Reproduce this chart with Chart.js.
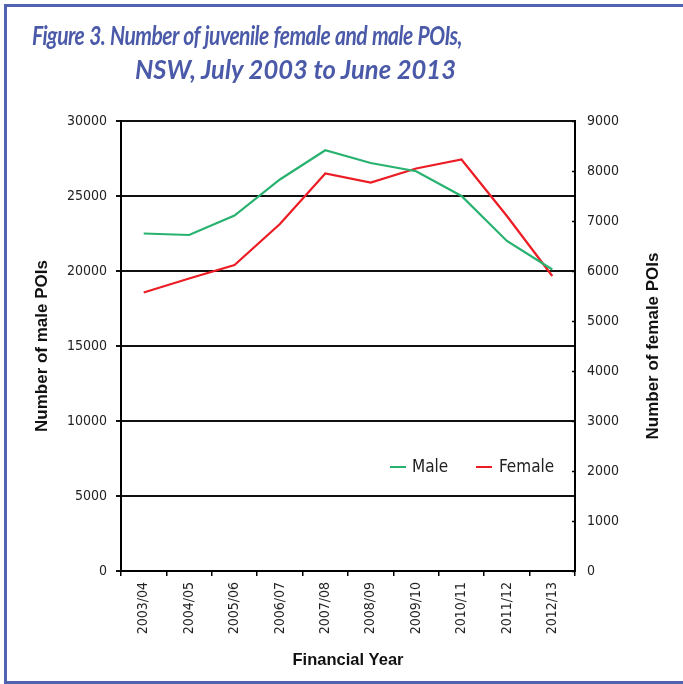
<!DOCTYPE html>
<html><head><meta charset="utf-8">
<script src="https://cdn.jsdelivr.net/npm/chart.js@4/dist/chart.umd.min.js"></script>
<style>
html,body{margin:0;padding:0;background:#fff;}
#wrap{position:relative;width:683px;height:684px;overflow:hidden;background:#fff;}
#frame{position:absolute;left:4px;top:4px;width:720px;height:680px;border-left:3px solid #5062b0;border-top:3px solid #5062b0;border-bottom:3px solid #5062b0;box-sizing:border-box;}
canvas{position:absolute;left:0;top:0;}
.tl{position:absolute;white-space:nowrap;color:#4b5aa8;font-family:Lato,"Open Sans",sans-serif;font-weight:700;font-style:italic;font-size:27px;line-height:30px;transform-origin:0 0;}
#t1{letter-spacing:-0.7px;word-spacing:1px;}
#legend{position:absolute;left:0;top:0;font-family:"Liberation Sans Narrow","DejaVu Sans Condensed","Liberation Sans",sans-serif;font-size:17px;color:#222;}
.li{position:absolute;white-space:nowrap;}
.ln{position:absolute;height:2px;}
</style></head>
<body><div id="wrap">
<div id="frame"></div>
<canvas id="c" width="683" height="684"></canvas>
<div class="tl" id="t1">Figure 3. Number of juvenile female and male POIs,</div>
<div class="tl" id="t2">NSW, July 2003 to June 2013</div>
<div id="legend"></div>
</div>
<script>
const categories = ["2003/04","2004/05","2005/06","2006/07","2007/08","2008/09","2009/10","2010/11","2011/12","2012/13"];
const maleValues = [22500, 22400, 23700, 26100, 28050, 27200, 26650, 25000, 22000, 20100];
const femaleValues = [5570, 5850, 6120, 6940, 7950, 7770, 8050, 8230, 7100, 5900];
const seriesNames = ["Male", "Female"];
const seriesColors = ["#27b26f", "#ec1c24"];
const axisTitles = {x: "Financial Year", y: "Number of male POIs", y1: "Number of female POIs"};

function fitLine(id, left, top, width){
  const el = document.getElementById(id);
  el.style.left = left + 'px'; el.style.top = top + 'px';
  const w = el.getBoundingClientRect().width;
  el.style.transform = 'scaleX(' + (width / w) + ')';
}
fitLine('t1', 32, 20, 430);
fitLine('t2', 135, 54, 321);

const tickFont = {family: '"Liberation Sans Narrow","DejaVu Sans Condensed","Liberation Sans",sans-serif', size: 14};
const titleFont = {family: '"Liberation Sans","Open Sans",sans-serif', size: 17, weight: 'bold', lineHeight: 1.2};
const plain = v => String(v);

const axisExtras = {
  id: 'axisExtras',
  afterDatasetsDraw(chart){
    const s = chart.scales.y1, ctx = chart.ctx;
    ctx.save(); ctx.strokeStyle = '#000'; ctx.lineWidth = 1.5;
    s.ticks.forEach(t => {
      const y = Math.round(s.getPixelForValue(t.value)) + 0.5;
      ctx.beginPath(); ctx.moveTo(s.left - 3, y); ctx.lineTo(s.left, y); ctx.stroke();
    });
    ctx.translate(s.right - 30, (s.top + s.bottom) / 2);
    ctx.rotate(-Math.PI / 2);
    ctx.fillStyle = '#111';
    ctx.font = 'bold 17px "Liberation Sans","Open Sans",sans-serif';
    ctx.textAlign = 'center'; ctx.textBaseline = 'middle';
    ctx.fillText(axisTitles.y1, 0, 0);
    ctx.restore();
  }
};

const chart = new Chart(document.getElementById('c'), {
  type: 'line',
  data: {
    labels: categories,
    datasets: [
      {label: seriesNames[0], data: maleValues, borderColor: seriesColors[0], backgroundColor: seriesColors[0], borderWidth: 2.2, pointRadius: 0, tension: 0, yAxisID: 'y'},
      {label: seriesNames[1], data: femaleValues, borderColor: seriesColors[1], backgroundColor: seriesColors[1], borderWidth: 2.2, pointRadius: 0, tension: 0, yAxisID: 'y1'}
    ]
  },
  options: {
    responsive: false, animation: false,
    layout: {padding: {top: 121, left: 0, right: 0, bottom: 0}},
    plugins: {legend: {display: false}, tooltip: {enabled: false}},
    scales: {
      x: {
        type: 'category', offset: true,
        grid: {offset: true, drawOnChartArea: false, drawTicks: true, tickLength: 5, color: '#000', lineWidth: 1.5},
        border: {color: '#000', width: 2},
        ticks: {minRotation: 90, maxRotation: 90, autoSkip: false, padding: 6, color: '#222', font: tickFont},
        title: {display: true, text: axisTitles.x, color: '#111', font: {...titleFont, size: 16.5}, padding: {top: 0, bottom: 14}},
        afterFit: s => { s.height = 113; }
      },
      y: {
        position: 'left', min: 0, max: 30000,
        grid: {color: '#111', lineWidth: 2, tickLength: 5, drawTicks: true},
        border: {color: '#000', width: 2},
        ticks: {stepSize: 5000, padding: 9, color: '#222', font: tickFont, callback: plain},
        title: {display: true, text: axisTitles.y, color: '#111', font: titleFont, padding: {top: 32, bottom: 0}},
        afterFit: s => { s.width = 121; }
      },
      y1: {
        position: 'right', min: 0, max: 9000,
        grid: {drawOnChartArea: false, drawTicks: false},
        border: {color: '#000', width: 2},
        ticks: {stepSize: 1000, padding: 12, color: '#222', font: tickFont, callback: plain},
        afterFit: s => { s.width = 108; }
      }
    }
  },
  plugins: [axisExtras]
});

const lg = document.getElementById('legend');
const legendPos = [{line: 390, text: 412}, {line: 476, text: 499}];
chart.data.datasets.forEach((d, i) => {
  const ln = document.createElement('div'); ln.className = 'ln';
  ln.style.left = legendPos[i].line + 'px'; ln.style.top = '466px'; ln.style.width = '16px'; ln.style.background = d.borderColor;
  const tx = document.createElement('div'); tx.className = 'li';
  tx.style.left = legendPos[i].text + 'px'; tx.style.top = '456px'; tx.textContent = d.label;
  lg.appendChild(ln); lg.appendChild(tx);
});
</script>
</body></html>
